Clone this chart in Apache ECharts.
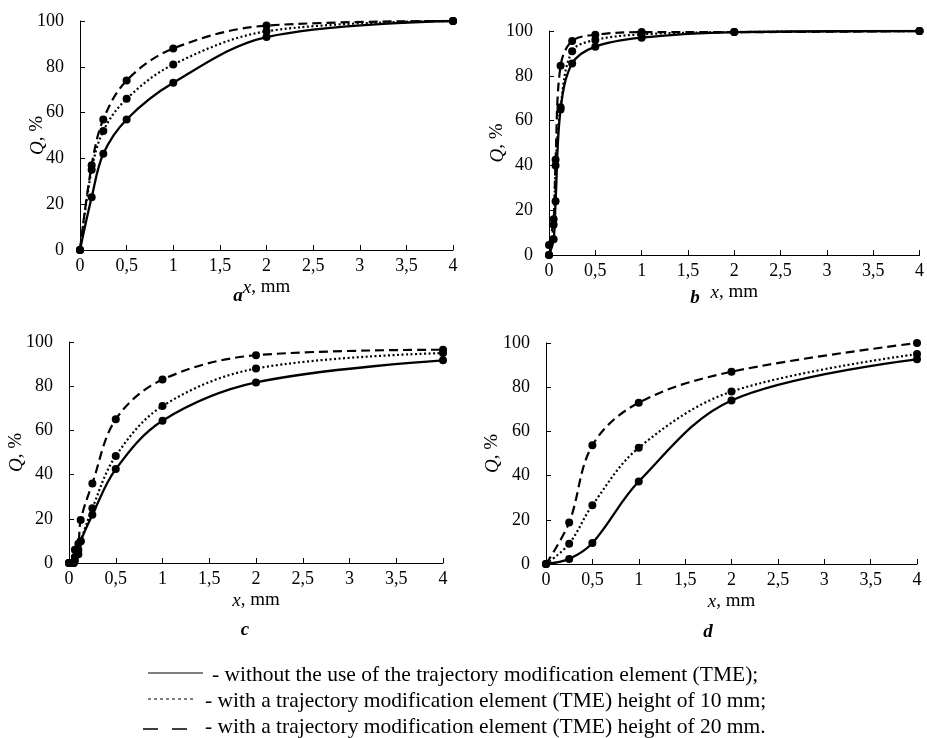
<!DOCTYPE html>
<html>
<head>
<meta charset="utf-8">
<script src="https://cdn.jsdelivr.net/npm/echarts@6/dist/echarts.min.js"></script>
<style>
html, body { margin: 0; padding: 0; background: #fff; }
#chart { width: 927px; height: 738px; }
</style>
</head>
<body>
<div id="chart"></div>
<script>
// sieve sizes x (mm) and passing Q (%) for each panel
const xA = [0, 0.125, 0.25, 0.5, 1, 2, 4];
const aSolid  = [0, 23, 42, 57, 73, 93, 100];
const aDotted = [0, 35, 52, 66, 81, 95.5, 100];
const aDashed = [0, 37, 57, 74, 88, 98, 100];

const xB = [0, 0.05, 0.071, 0.125, 0.25, 0.5, 1, 2, 4];
const bSolid  = [0, 7, 24, 65, 85.5, 93, 97, 99.5, 100];
const bDotted = [0, 13.5, 40, 66, 91, 96, 98.5, 99.5, 100];
const bDashed = [4.5, 16, 42.5, 84.5, 95.5, 98.3, 99.5, 99.5, 100];

const xC = [0, 0.05, 0.063, 0.1, 0.125, 0.25, 0.5, 1, 2, 4];
const cSolid  = [0, 0, 1, 4, 9.8, 21.8, 42.5, 64.4, 81.7, 91.7];
const cDotted = [0, 0, 2.7, 6, 9.8, 24.8, 48.4, 71, 88, 95];
const cDashed = [0, 0, 6, 8.7, 19.5, 36, 65, 83, 94, 96.5];

const xD = [0, 0.25, 0.5, 1, 2, 4];
const dSolid  = [0, 2.3, 9.5, 37.3, 74, 92.6];
const dDotted = [0, 9.2, 26.6, 52.6, 78, 95];
const dDashed = [0, 18.8, 53.7, 73, 87, 100];

const panelLetters = ['a', 'b', 'c', 'd'];
const legendTexts = [
    '- without the use of the trajectory modification element (TME);',
    '- with a trajectory modification element (TME) height of 10 mm;',
    '- with a trajectory modification element (TME) height of 20 mm.'
];

const FONT = '"Liberation Serif", "Times New Roman", serif';

const panels = [
    {x: xA, ys: [aSolid, aDotted, aDashed]},
    {x: xB, ys: [bSolid, bDotted, bDashed]},
    {x: xC, ys: [cSolid, cDotted, cDashed]},
    {x: xD, ys: [dSolid, dDotted, dDashed]}
];

const grids = [
    {left: 80, top: 21, width: 373, height: 229},
    {left: 549, top: 31, width: 372, height: 224},
    {left: 69, top: 342, width: 374, height: 221},
    {left: 546, top: 343, width: 371, height: 221}
];
const yNameGap = [33, 42, 43, 44];
const letterPos = [[238, 296], [695, 298], [245, 630], [708, 632]];

const lineTypes = ['solid', [2, 2.5], [9, 5]];

const chart = echarts.init(document.getElementById('chart'));

let xAxes = [], yAxes = [], series = [], graphics = [];

grids.forEach(function (g, i) {
    xAxes.push({
        type: 'value', gridIndex: i, min: 0, max: 4, interval: 0.5,
        axisLine: {lineStyle: {color: '#000', width: 1}},
        axisTick: {inside: true, length: 5, lineStyle: {color: '#000'}},
        splitLine: {show: false},
        axisLabel: {
            color: '#000', fontFamily: FONT, fontSize: 18, margin: 7,
            formatter: function (v) { return String(v).replace('.', ','); }
        },
        name: '{i|x}, mm',
        nameLocation: 'middle',
        nameGap: 28,
        nameMoveOverlap: false,
        nameTextStyle: {
            color: '#000', fontFamily: FONT, fontSize: 19,
            rich: {i: {fontStyle: 'italic', fontFamily: FONT, fontSize: 19, color: '#000'}}
        }
    });
    yAxes.push({
        type: 'value', gridIndex: i, min: 0, max: 100, interval: 20,
        axisLine: {show: true, lineStyle: {color: '#000', width: 1}},
        axisTick: {show: true, inside: true, length: 5, lineStyle: {color: '#000'}},
        splitLine: {show: false},
        axisLabel: {color: '#000', fontFamily: FONT, fontSize: 18, margin: 16},
        name: '{i|Q}, %',
        nameLocation: 'middle',
        nameRotate: 90,
        nameGap: yNameGap[i],
        nameMoveOverlap: false,
        nameTextStyle: {
            color: '#000', fontFamily: FONT, fontSize: 19,
            rich: {i: {fontStyle: 'italic', fontFamily: FONT, fontSize: 19, color: '#000'}}
        }
    });
    const p = panels[i];
    p.ys.forEach(function (ys, k) {
        series.push({
            type: 'line', xAxisIndex: i, yAxisIndex: i,
            smooth: 0.35,
            symbol: 'circle', symbolSize: 8,
            itemStyle: {color: '#000'},
            lineStyle: {color: '#000', width: k === 0 ? 2.3 : 2.2, type: lineTypes[k]},
            z: 3 - k,
            data: p.x.map(function (x, j) { return [x, ys[j]]; })
        });
    });
    graphics.push({
        type: 'text', x: letterPos[i][0], y: letterPos[i][1],
        style: {
            text: panelLetters[i], fill: '#000', font: 'italic bold 19px ' + FONT,
            textAlign: 'center', textVerticalAlign: 'middle'
        }
    });
});

// legend drawn as sample lines + text
const legY = [675, 701, 727];
const legLineY = [673, 699, 729];
legendTexts.forEach(function (t, k) {
    graphics.push({
        type: 'line',
        shape: {x1: k === 2 ? 143 : 148, y1: legLineY[k], x2: k === 1 ? 196 : (k === 2 ? 192 : 203), y2: legLineY[k]},
        style: {stroke: '#000', lineWidth: k === 2 ? 1.3 : 1, lineDash: k === 0 ? null : (k === 1 ? [3, 3] : [15, 14])}
    });
    graphics.push({
        type: 'text', x: k === 0 ? 212 : 205, y: legY[k],
        style: {text: t, fill: '#000', font: '21.5px ' + FONT, textVerticalAlign: 'middle'}
    });
});

chart.setOption({
    animation: false,
    backgroundColor: '#fff',
    grid: grids,
    xAxis: xAxes,
    yAxis: yAxes,
    series: series,
    graphic: graphics
});
</script>
</body>
</html>
